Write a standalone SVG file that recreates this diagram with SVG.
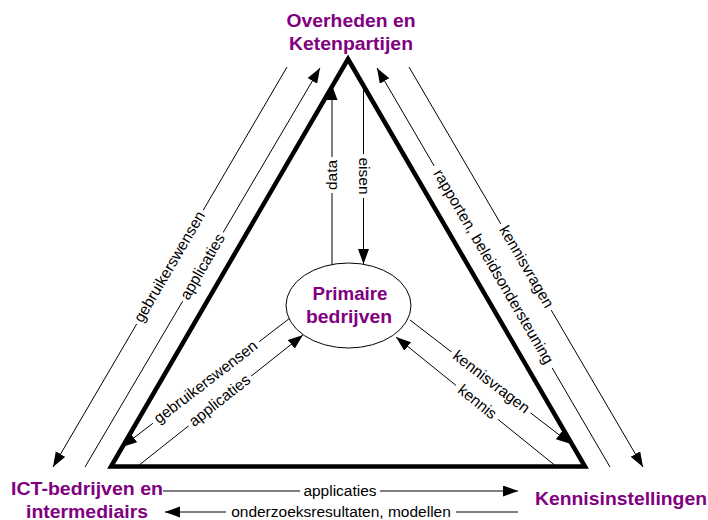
<svg xmlns="http://www.w3.org/2000/svg" width="708" height="520" viewBox="0 0 708 520">
  <style>
    .node { font-family: "Liberation Sans", Arial, sans-serif; font-weight: bold; font-size: 18px; fill: #800080; }
    .lbl { font-family: "Liberation Sans", Arial, sans-serif; font-size: 15.5px; fill: #000; text-anchor: middle; }
    .ln { stroke: #000; stroke-width: 1; fill: none; }
    .arr { marker-end: url(#ah); }
    .gap { fill: #fff; }
  </style>
  <defs>
    <marker id="ah" markerUnits="userSpaceOnUse" markerWidth="16" markerHeight="12" refX="15" refY="5.5" orient="auto">
      <path d="M0,0 L15,5.5 L0,11 Z" fill="#000"/>
    </marker>
  </defs>
  <rect width="708" height="520" fill="#fff"/>

  <!-- central triangle -->
  <g id="triangle">
    <polygon points="348,59 585,466.5 111,466.5" fill="none" stroke="#000" stroke-width="4.5" stroke-linejoin="miter"/>
  </g>

  <!-- connectors and their labels -->
  <g id="connectors">
    <!-- outer left pair -->
    <line class="ln arr" x1="287" y1="67" x2="53" y2="467"/>
    <line class="ln arr" x1="85" y1="467" x2="320" y2="68"/>
    <!-- outer right pair -->
    <line class="ln arr" x1="610" y1="467" x2="377" y2="68"/>
    <line class="ln arr" x1="409" y1="67" x2="643" y2="467"/>
    <!-- vertical pair -->
    <line class="ln arr" x1="332" y1="264.5" x2="332" y2="85"/>
    <line class="ln arr" x1="363.5" y1="86" x2="363.5" y2="264"/>
    <!-- inner left pair -->
    <line class="ln arr" x1="290" y1="318" x2="122" y2="447"/>
    <line class="ln arr" x1="138" y1="466" x2="303" y2="335"/>
    <!-- inner right pair -->
    <line class="ln arr" x1="410" y1="320" x2="571" y2="444"/>
    <line class="ln arr" x1="557" y1="467" x2="396" y2="337"/>
    <!-- bottom pair -->
    <line class="ln arr" x1="163" y1="491" x2="518" y2="491"/>
    <line class="ln arr" x1="518" y1="512" x2="165" y2="512"/>

    <!-- labels -->
    <g transform="translate(170,267) rotate(-59.7)">
      <rect class="gap" x="-66" y="-3" width="132" height="6"/>
      <text class="lbl" dy="4.5">gebruikerswensen</text>
    </g>
    <g transform="translate(203,267) rotate(-59.7)">
      <rect class="gap" x="-40" y="-3" width="80" height="6"/>
      <text class="lbl" dy="4.5">applicaties</text>
    </g>
    <g transform="translate(493,267) rotate(59.7)">
      <rect class="gap" x="-117" y="-3" width="234" height="6"/>
      <text class="lbl" dy="4.5">rapporten, beleidsondersteuning</text>
    </g>
    <g transform="translate(526,267) rotate(59.7)">
      <rect class="gap" x="-50" y="-3" width="100" height="6"/>
      <text class="lbl" dy="4.5">kennisvragen</text>
    </g>
    <g transform="translate(332,175) rotate(-90)">
      <rect class="gap" x="-18" y="-3" width="36" height="6"/>
      <text class="lbl" dy="4.5">data</text>
    </g>
    <g transform="translate(363.5,176) rotate(90)">
      <rect class="gap" x="-22" y="-3" width="44" height="6"/>
      <text class="lbl" dy="4.5">eisen</text>
    </g>
    <g transform="translate(206,382.5) rotate(-37.5)">
      <rect class="gap" x="-67" y="-3" width="134" height="6"/>
      <text class="lbl" dy="4.5">gebruikerswensen</text>
    </g>
    <g transform="translate(220,401) rotate(-38.4)">
      <rect class="gap" x="-40" y="-3" width="80" height="6"/>
      <text class="lbl" dy="4.5">applicaties</text>
    </g>
    <g transform="translate(491,382.4) rotate(37.6)">
      <rect class="gap" x="-50" y="-3" width="100" height="6"/>
      <text class="lbl" dy="4.5">kennisvragen</text>
    </g>
    <g transform="translate(477,402.4) rotate(38.9)">
      <rect class="gap" x="-27" y="-3" width="54" height="6"/>
      <text class="lbl" dy="4.5">kennis</text>
    </g>
    <g transform="translate(340,491)">
      <rect class="gap" x="-40" y="-3" width="80" height="6"/>
      <text class="lbl" dy="4.5">applicaties</text>
    </g>
    <g transform="translate(341,512)">
      <rect class="gap" x="-115" y="-3" width="230" height="6"/>
      <text class="lbl" dy="4.5">onderzoeksresultaten, modellen</text>
    </g>
  </g>

  <!-- actors -->
  <g id="overheden">
    <text class="node" x="351" y="27" text-anchor="middle" textLength="129" lengthAdjust="spacingAndGlyphs">Overheden en</text>
    <text class="node" x="351" y="50" text-anchor="middle" textLength="124" lengthAdjust="spacingAndGlyphs">Ketenpartijen</text>
  </g>
  <g id="primaire">
    <ellipse cx="348.5" cy="305.5" rx="62.5" ry="42.5" fill="#fff" stroke="#000" stroke-width="1"/>
    <text class="node" x="350" y="300" text-anchor="middle" textLength="75" lengthAdjust="spacingAndGlyphs">Primaire</text>
    <text class="node" x="349" y="323" text-anchor="middle" textLength="86" lengthAdjust="spacingAndGlyphs">bedrijven</text>
  </g>
  <g id="ict">
    <text class="node" x="11" y="495" textLength="152" lengthAdjust="spacingAndGlyphs">ICT-bedrijven en</text>
    <text class="node" x="26" y="517.5" textLength="122" lengthAdjust="spacingAndGlyphs">intermediairs</text>
  </g>
  <g id="kennisinstellingen">
    <text class="node" x="535" y="505" textLength="172" lengthAdjust="spacingAndGlyphs">Kennisinstellingen</text>
  </g>
</svg>
